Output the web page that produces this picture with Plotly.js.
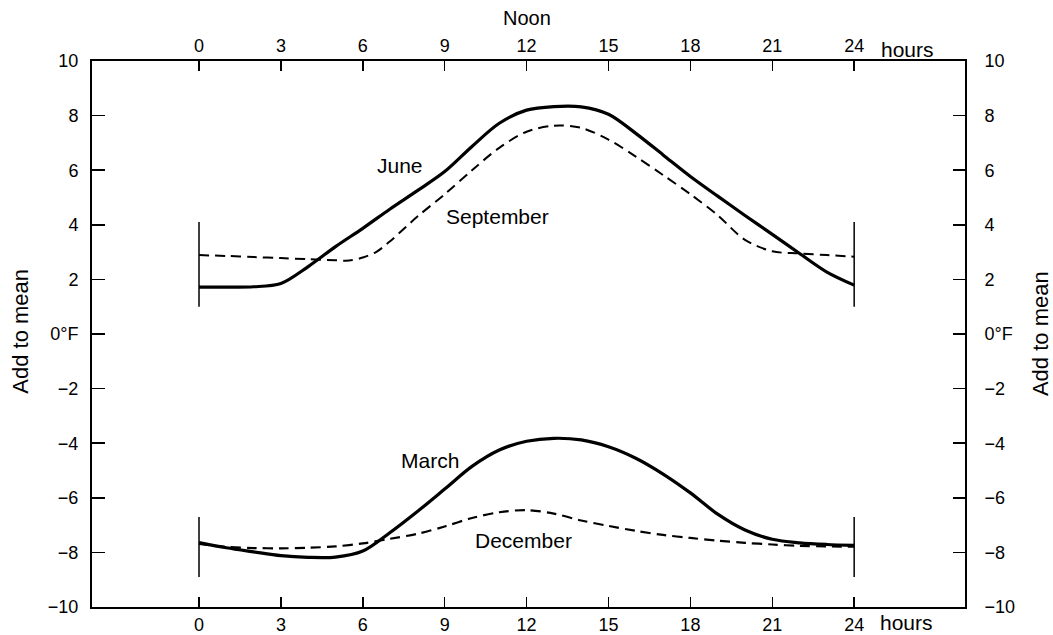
<!DOCTYPE html>
<html>
<head>
<meta charset="utf-8">
<script src="https://cdn.plot.ly/plotly-3.0.1.min.js"></script>
<style>
html, body { margin: 0; padding: 0; background: #fff; }
#chart { width: 1053px; height: 635px; }
</style>
</head>
<body>
<div id="chart"></div>
<script>
// ---- Data (hours after midnight, °F to add to mean) ----
var juneHours = [0, 1, 2, 3, 4, 5, 6, 7, 8, 9, 10, 11, 12, 13, 14, 15, 16, 17, 18, 19, 20, 21, 22, 23, 24];
var juneValues = [1.72, 1.72, 1.73, 1.85, 2.47, 3.2, 3.87, 4.58, 5.25, 5.95, 6.87, 7.72, 8.2, 8.33, 8.32, 8.05, 7.35, 6.56, 5.77, 5.05, 4.34, 3.65, 2.95, 2.27, 1.79];

var septHours = [0, 1, 2, 3, 4, 5, 5.5, 6, 6.5, 7, 8, 9, 10, 11, 12, 13, 14, 15, 16, 17, 18, 19, 20, 21, 22, 23, 24];
var septValues = [2.89, 2.86, 2.82, 2.78, 2.74, 2.7, 2.69, 2.8, 3.01, 3.4, 4.3, 5.12, 6.0, 6.82, 7.41, 7.63, 7.55, 7.12, 6.5, 5.82, 5.12, 4.35, 3.45, 3.03, 2.95, 2.89, 2.83];

var marchHours = [0, 1, 2, 3, 4, 5, 6, 7, 8, 9, 10, 11, 12, 13, 14, 15, 16, 17, 18, 19, 20, 21, 22, 23, 24];
var marchValues = [-7.64, -7.83, -7.98, -8.12, -8.18, -8.17, -7.95, -7.27, -6.5, -5.68, -4.85, -4.25, -3.93, -3.82, -3.88, -4.13, -4.55, -5.13, -5.82, -6.6, -7.18, -7.52, -7.65, -7.71, -7.74];

var decHours = [0, 1, 2, 3, 4, 5, 6, 7, 8, 9, 10, 11, 12, 13, 14, 15, 16, 17, 18, 19, 20, 21, 22, 23, 24];
var decValues = [-7.69, -7.8, -7.84, -7.85, -7.83, -7.78, -7.67, -7.5, -7.32, -7.05, -6.74, -6.53, -6.45, -6.58, -6.83, -7.03, -7.21, -7.36, -7.47, -7.57, -7.65, -7.71, -7.76, -7.78, -7.79];

// vertical end markers at 0 h and 24 h
var markerHours = [0, 24];
var upperMarkerRange = [4.1, 1.0];
var lowerMarkerRange = [-6.7, -8.9];

// ticks
var hourTicks = [0, 3, 6, 9, 12, 15, 18, 21, 24];
var hourTickLabels = ["0", "3", "6", "9", "12", "15", "18", "21", "24"];
var tempTicks = [10, 8, 6, 4, 2, 0, -2, -4, -6, -8, -10];
var tempTickLabels = ["10", "8", "6", "4", "2", "0°F", "\u22122", "\u22124", "\u22126", "\u22128", "\u221210"];

// curve labels
var curveLabels = ["June", "September", "March", "December"];
var curveLabelHours = [7.36, 10.95, 8.46, 11.87];
var curveLabelValues = [6.19, 4.29, -4.65, -7.55];

// ---- Build ----
var FONT = "Liberation Sans, Arial, Helvetica, sans-serif";
var xRange = [-3.92, 28.06];
var yRange = [-10, 10];

var traces = [
  { x: juneHours, y: juneValues, mode: "lines", line: { color: "#000", width: 3.2, shape: "spline", smoothing: 0.9 }, hoverinfo: "skip" },
  { x: septHours, y: septValues, mode: "lines", line: { color: "#000", width: 2, dash: "10px,6px", shape: "spline", smoothing: 0.9 }, hoverinfo: "skip" },
  { x: marchHours, y: marchValues, mode: "lines", line: { color: "#000", width: 3.2, shape: "spline", smoothing: 0.9 }, hoverinfo: "skip" },
  { x: decHours, y: decValues, mode: "lines", line: { color: "#000", width: 2.2, dash: "10px,6px", shape: "spline", smoothing: 0.9 }, hoverinfo: "skip" }
];

markerHours.forEach(function (h) {
  [upperMarkerRange, lowerMarkerRange].forEach(function (r) {
    traces.push({ x: [h, h], y: r, mode: "lines", xaxis: "x2", yaxis: "y2",
      line: { color: "#000", width: 1.5 }, hoverinfo: "skip" });
  });
});

var annotations = [];
for (var i = 0; i < curveLabels.length; i++) {
  annotations.push({ x: curveLabelHours[i], y: curveLabelValues[i], xref: "x", yref: "y",
    text: curveLabels[i], showarrow: false, font: { family: FONT, size: 21, color: "#000" },
    xanchor: "center", yanchor: "middle" });
}
annotations.push({ x: 12, y: 1.079, xref: "x", yref: "paper", text: "Noon", showarrow: false,
  font: { family: FONT, size: 20, color: "#000" }, xanchor: "center", yanchor: "middle" });
annotations.push({ x: 25.97, y: 1.021, xref: "x", yref: "paper", text: "hours", showarrow: false,
  font: { family: FONT, size: 21, color: "#000" }, xanchor: "center", yanchor: "middle" });
annotations.push({ x: 25.93, y: -0.028, xref: "x", yref: "paper", text: "hours", showarrow: false,
  font: { family: FONT, size: 21, color: "#000" }, xanchor: "center", yanchor: "middle" });
annotations.push({ x: -0.082, y: 0.505, xref: "paper", yref: "paper", text: "Add to mean", textangle: -90,
  showarrow: false, font: { family: FONT, size: 22, color: "#000" }, xanchor: "center", yanchor: "middle" });
annotations.push({ x: 1.086, y: 0.5, xref: "paper", yref: "paper", text: "Add to mean", textangle: -90,
  showarrow: false, font: { family: FONT, size: 22, color: "#000" }, xanchor: "center", yanchor: "middle" });

var tickFont = { family: FONT, size: 18, color: "#000" };
var layout = {
  width: 1053, height: 635,
  margin: { l: 92, r: 88, t: 61, b: 28, pad: 0 },
  paper_bgcolor: "#fff", plot_bgcolor: "#fff",
  showlegend: false,
  xaxis: { range: xRange, tickmode: "array", tickvals: hourTicks, ticktext: hourTickLabels,
    ticks: "inside", ticklen: 10, tickwidth: 1.5, tickcolor: "#000",
    showline: true, linecolor: "#000", linewidth: 2, showgrid: false, zeroline: false,
    tickfont: tickFont, fixedrange: true },
  xaxis2: { range: xRange, overlaying: "x", side: "top", anchor: "y", tickmode: "array",
    tickvals: hourTicks, ticktext: hourTickLabels,
    ticks: "inside", ticklen: 10, tickwidth: 1.5, tickcolor: "#000",
    showline: true, linecolor: "#000", linewidth: 2, showgrid: false, zeroline: false,
    tickfont: tickFont, fixedrange: true },
  yaxis: { range: yRange, tickmode: "array", tickvals: tempTicks, ticktext: tempTickLabels,
    ticks: "inside", ticklen: 13, tickwidth: 1.5, tickcolor: "#000",
    showline: true, linecolor: "#000", linewidth: 2, showgrid: false, zeroline: false,
    tickfont: tickFont, ticklabelstandoff: 8, fixedrange: true },
  yaxis2: { range: yRange, overlaying: "y", side: "right", anchor: "x", tickmode: "array",
    tickvals: tempTicks, ticktext: tempTickLabels,
    ticks: "inside", ticklen: 12, tickwidth: 1.5, tickcolor: "#000",
    showline: true, linecolor: "#000", linewidth: 2, showgrid: false, zeroline: false,
    tickfont: tickFont, ticklabelstandoff: 14, fixedrange: true },
  annotations: annotations
};

Plotly.newPlot("chart", traces, layout, { displayModeBar: false, staticPlot: true });
</script>
</body>
</html>
